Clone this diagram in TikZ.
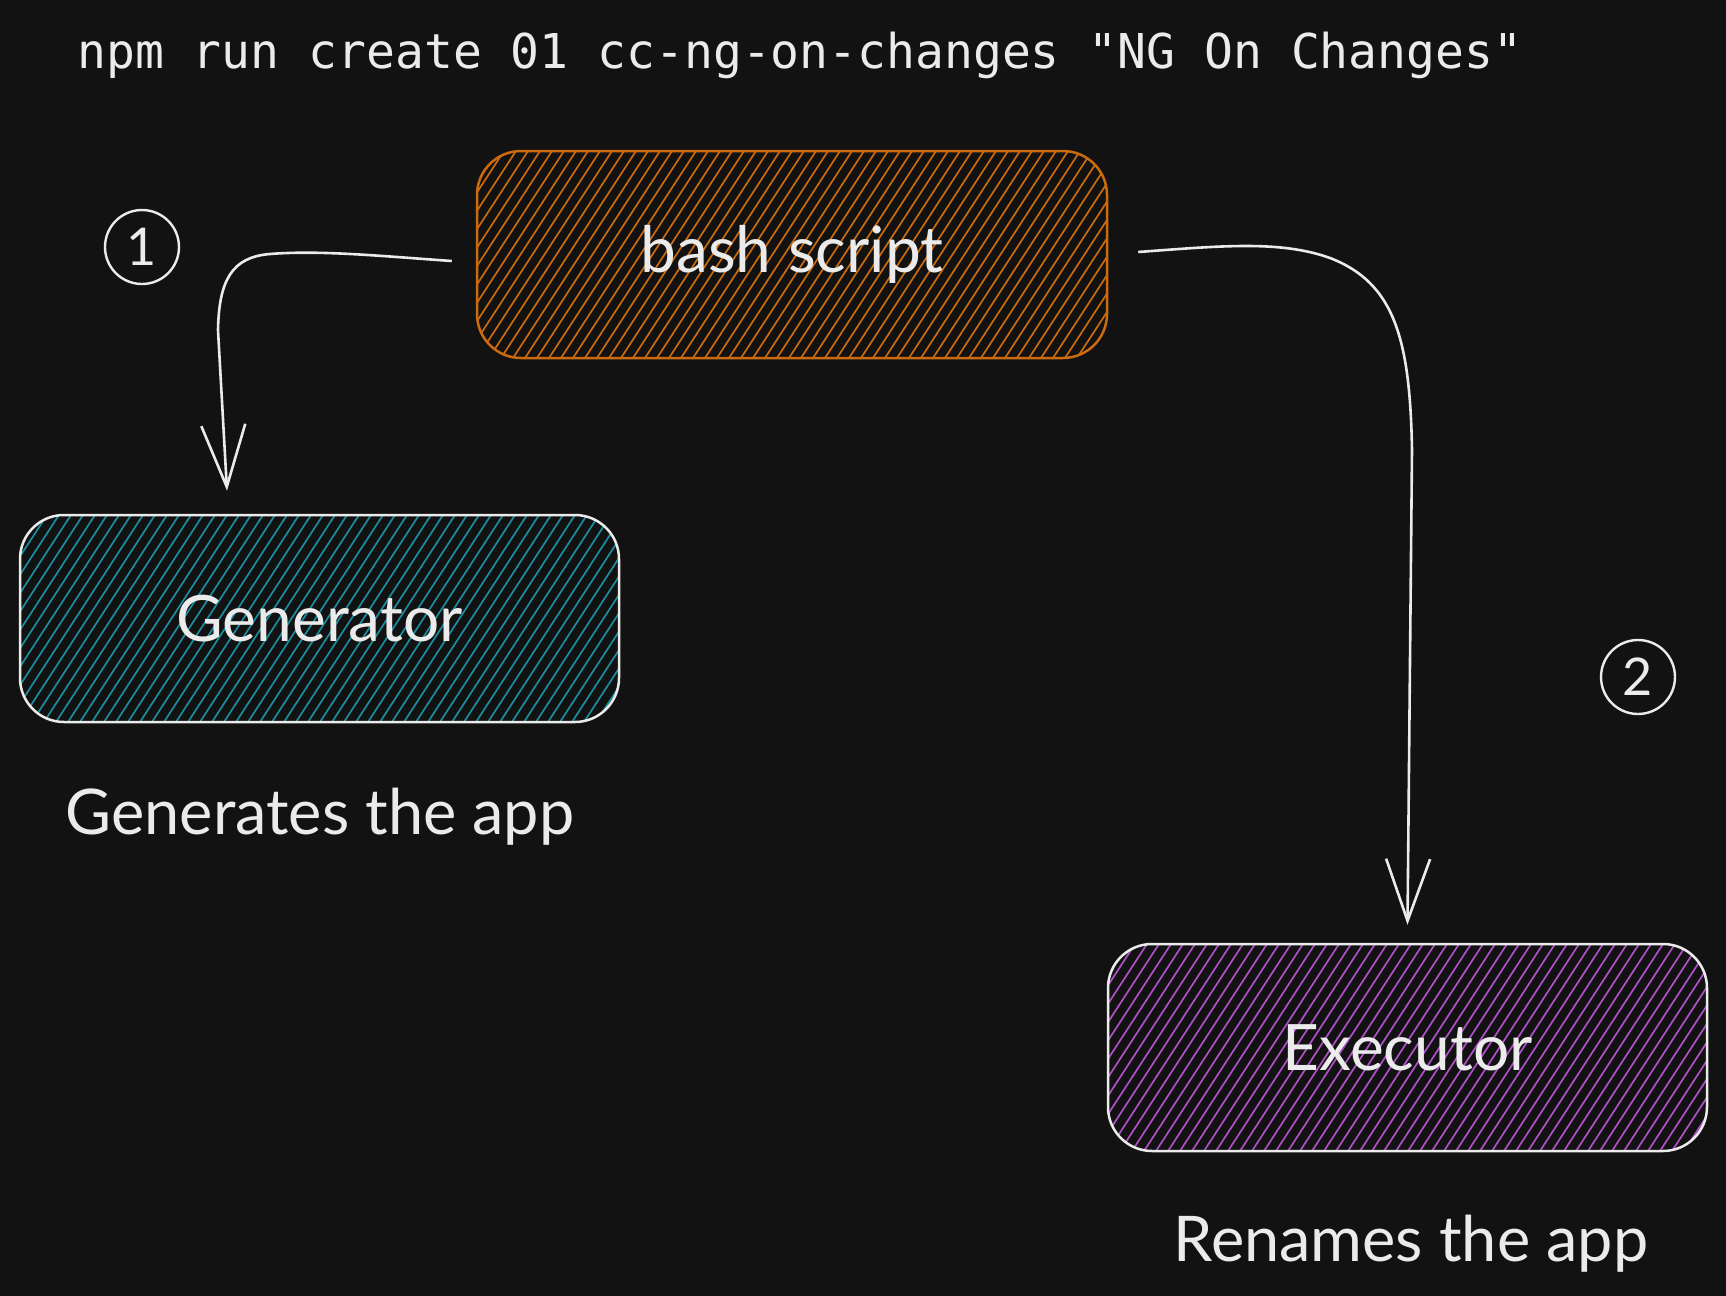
\documentclass[tikz,border=0pt]{standalone}
\usepackage{fontspec}
\setmainfont{Lato}
\newfontfamily\monofont{DejaVu Sans Mono}
\usetikzlibrary{arrows.meta,calc}
\definecolor{bgc}{HTML}{121212}
\definecolor{ink}{HTML}{EBEBEB}
\definecolor{orng}{HTML}{CC6A0E}
\definecolor{tealh}{HTML}{1A8E9E}
\definecolor{purp}{HTML}{B04FC8}
\begin{document}
\begin{tikzpicture}[x=0.5pt,y=-0.5pt,
  box/.style={rounded corners=22pt, minimum height=103.5pt, line width=1.25pt,
    font=\fontsize{32}{38}\selectfont, text=ink, inner sep=0pt},
  hatch/.style={path picture={
    \foreach \i in {-156,-144,...,648}
      \draw[line width=0.85pt,#1] ($(path picture bounding box.south west)+(\i,0)$) -- ++(135,-207);}},
  lbl/.style={font=\fontsize{31.5}{38}\selectfont, text=ink, inner sep=0pt},
  circ/.style={circle, draw=ink, line width=1.2pt, minimum size=37pt, inner sep=0pt,
    text=ink, font=\fontsize{26}{30}\selectfont},
  arr/.style={draw=ink, line width=1.3pt,
    -{Straight Barb[length=31pt,width=22pt,line width=1.3pt]}}
]
\fill[bgc] (0,0) rectangle (1726,1296);
\useasboundingbox (0,0) rectangle (1726,1296);

\node[anchor=base west, inner sep=0pt, font=\monofont\fontsize{24}{28}\selectfont, text=ink]
  (title) at (77,68) {npm run create 01 cc-ng-on-changes "NG On Changes"};

\node[box, draw=orng, hatch=orng, minimum width=315pt] (bash) at (792,254.5) {bash script};
\node[box, draw=ink, hatch=tealh, minimum width=299.5pt] (gen) at (319.5,618.5) {Generator};
\node[box, draw=ink, hatch=purp, minimum width=299.5pt] (exec) at (1407.5,1047.5) {Executor};

\node[lbl] (genlbl) at (320,817) {Generates the app};
\node[lbl] (execlbl) at (1411,1244) {Renames the app};

\node[circ] (c1) at (142,247) {1};
\node[circ] (c2) at (1638,677) {2};

\coordinate (a1s) at ([xshift=-12pt,yshift=-3.25pt]bash.west);
\coordinate (a1e) at ([xshift=-46.25pt,yshift=11.5pt]gen.north);
\coordinate (a2s) at ([xshift=15pt,yshift=1.25pt]bash.east);
\coordinate (a2e) at ([yshift=9pt]exec.north);

\draw[arr] (a1s) .. controls (380,256) and (320,250) .. (270,254)
  .. controls (232,257) and (219,280) .. (218,330) -- (a1e);
\draw[arr] (a2s) .. controls (1220,246) and (1280,240) .. (1330,258)
  .. controls (1395,283) and (1410,340) .. (1412,450) -- (a2e);
\end{tikzpicture}
\end{document}
